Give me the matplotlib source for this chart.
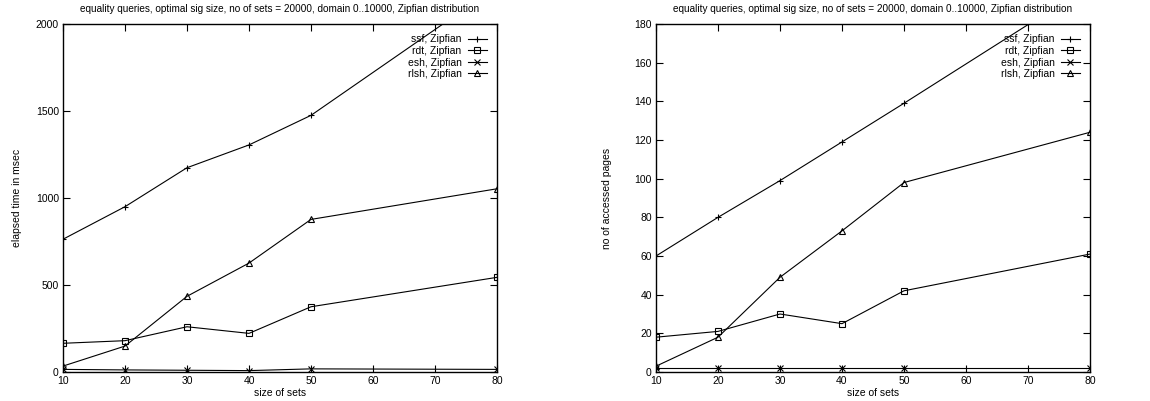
import matplotlib
matplotlib.use("Agg")
import matplotlib.pyplot as plt

plt.rcParams['font.family'] = ['Liberation Sans', 'DejaVu Sans']
plt.rcParams['font.size'] = 7.5

# size of sets
sizes = [10, 20, 30, 40, 50, 80]

# elapsed time in msec
time_ssf = [763, 950, 1174, 1305, 1475, 2215]
time_rdt = [165, 180, 260, 222, 375, 544]
time_esh = [15, 12, 10, 8, 18, 15]
time_rlsh = [34, 149, 435, 626, 877, 1053]

# no of accessed pages
pages_ssf = [60, 80, 99, 119, 139, 200]
pages_rdt = [18, 21, 30, 25, 42, 61]
pages_esh = [2, 2, 2, 2, 2, 2]
pages_rlsh = [3, 18, 49, 73, 98, 124]

labels = ["ssf, Zipfian", "rdt, Zipfian", "esh, Zipfian", "rlsh, Zipfian"]
markers = ["+", "s", "x", "^"]
title = "equality queries, optimal sig size, no of sets = 20000, domain 0..10000, Zipfian distribution"

fig = plt.figure(figsize=(11.5, 4.01), dpi=100)
W, H = 1150, 401
ax1 = fig.add_axes([63 / W, 1 - 372 / H, (497 - 63) / W, (372 - 24) / H])
ax2 = fig.add_axes([656 / W, 1 - 372 / H, (1090 - 656) / W, (372 - 24) / H])


def draw(ax, series, ylim, yticks, ylabel, ylpad):
    for ys, lab, m in zip(series, labels, markers):
        ax.plot(sizes, ys, color="black", lw=0.8, marker=m, ms=4.5,
                mfc="none", mec="black", mew=0.8, label=lab)
    ax.set_xlim(10, 80)
    ax.set_ylim(*ylim)
    ax.set_xticks(range(10, 81, 10))
    ax.set_yticks(yticks)
    ax.tick_params(direction="in", top=True, right=True, length=5, width=0.8, pad=3)
    for s in ax.spines.values():
        s.set_linewidth(1.0)
    ax.set_title(title, fontsize=7.2, pad=9)
    ax.set_xlabel("size of sets", labelpad=1)
    ax.set_ylabel(ylabel, labelpad=ylpad)
    ax.legend(loc="upper right", frameon=False, markerfirst=False,
              handlelength=1.8, handletextpad=0.6, labelspacing=0.15,
              borderaxespad=0.6, fontsize=7.5)


draw(ax1, [time_ssf, time_rdt, time_esh, time_rlsh], (0, 2000),
     range(0, 2001, 500), "elapsed time in msec", 10)
draw(ax2, [pages_ssf, pages_rdt, pages_esh, pages_rlsh], (0, 180),
     range(0, 181, 20), "no of accessed pages", 16)

fig.savefig("out.png", dpi=100)
